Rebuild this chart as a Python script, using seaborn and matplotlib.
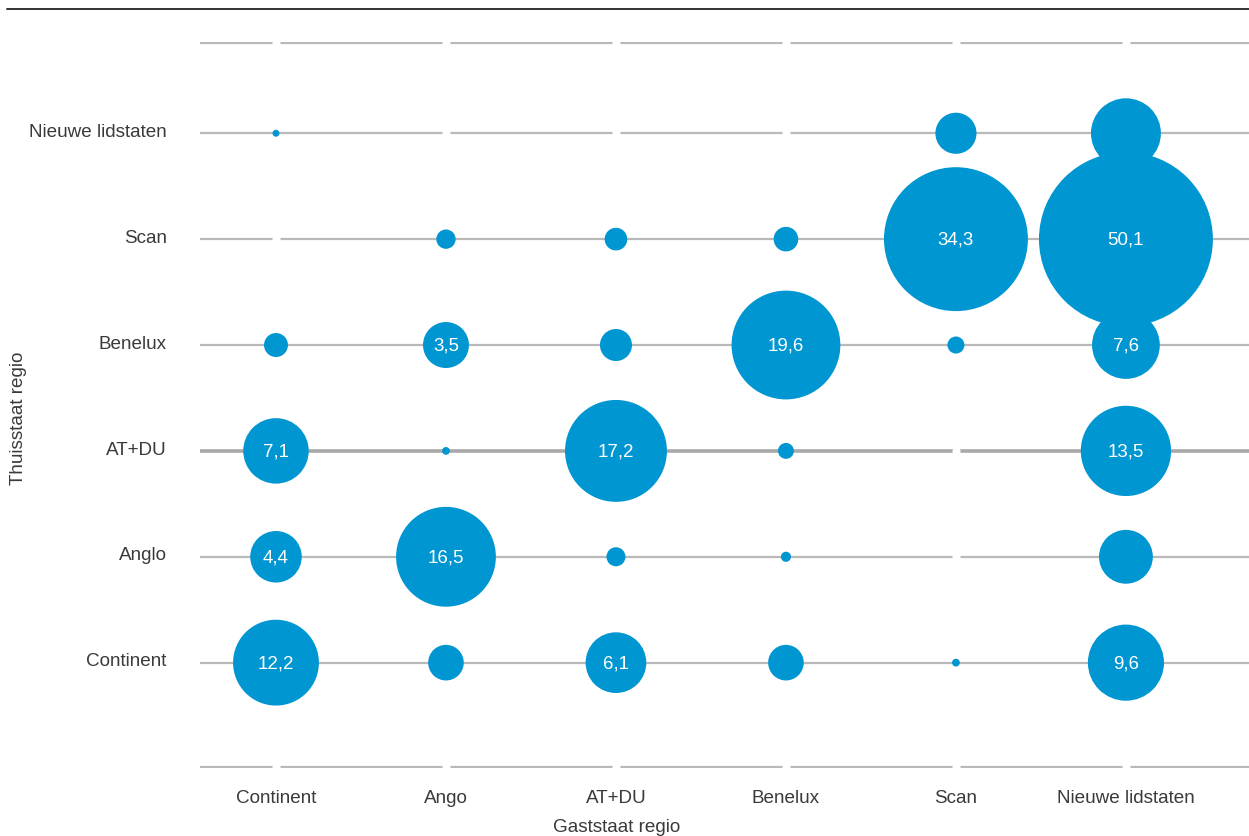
import matplotlib
matplotlib.use("Agg")
import matplotlib.pyplot as plt
from matplotlib.lines import Line2D
from matplotlib.transforms import ScaledTranslation
import numpy as np
import pandas as pd
import seaborn as sns

# ---- data ----
gast_regions = ["Continent", "Ango", "AT+DU", "Benelux", "Scan", "Nieuwe lidstaten"]   # x
thuis_regions = ["Continent", "Anglo", "AT+DU", "Benelux", "Scan", "Nieuwe lidstaten"]  # y (bottom->top)

# values per home region (row), in gast_regions order; None = no value
row_continent = [12.2, 2.1, 6.1, 2.1, 0.1, 9.6]
row_anglo = [4.4, 16.5, 0.6, 0.17, None, 4.8]
row_atdu = [7.1, 0.1, 17.2, 0.42, None, 13.5]
row_benelux = [0.95, 3.5, 1.7, 19.6, 0.48, 7.6]
row_scan = [None, 0.62, 0.85, 1.0, 34.3, 50.1]
row_nl = [0.08, None, None, None, 2.8, 8.1]
rows = [row_continent, row_anglo, row_atdu, row_benelux, row_scan, row_nl]

# which bubbles carry a value label
lab_continent = [True, False, True, False, False, True]
lab_anglo = [True, True, False, False, False, False]
lab_atdu = [True, False, True, False, False, True]
lab_benelux = [False, True, False, True, False, True]
lab_scan = [False, False, False, False, True, True]
lab_nl = [False, False, False, False, False, False]
labs = [lab_continent, lab_anglo, lab_atdu, lab_benelux, lab_scan, lab_nl]

xlabel = "Gaststaat regio"
ylabel = "Thuisstaat regio"

# ---- build table ----
recs, gaps = [], []
for yi, (vals, lb) in enumerate(zip(rows, labs)):
    for xi, (v, l) in enumerate(zip(vals, lb)):
        if v is None:
            gaps.append({"xi": xi, "yi": yi})
        else:
            recs.append({"xi": xi, "yi": yi, "value": v, "label": l,
                         "gast": gast_regions[xi], "thuis": thuis_regions[yi]})
df = pd.DataFrame(recs)

BLUE = "#0096D1"
GRID = "#b9b9b9"
TXT = "#3a3a3a"
FS = 13.6

sns.set_theme(style="white")
plt.rcParams["font.family"] = ["Liberation Sans", "DejaVu Sans"]

fig = plt.figure(figsize=(12.49, 8.37), dpi=100)
ax = fig.add_axes([200 / 1249, 68 / 837, 1049 / 1249, 726 / 837])

x_lo, x_hi = -0.447, 5.724
y_lo, y_hi = -0.995, 5.862
ax.set_xlim(x_lo, x_hi)
ax.set_ylim(y_lo, y_hi)

# grid lines (one per row plus the frame lines)
frame_rows = [y_lo + 0.012, y_hi - 0.006]
for yi in range(len(thuis_regions)):
    hl = thuis_regions[yi] == "AT+DU"
    ax.hlines(yi, x_lo, x_hi, colors="#a9a9a9" if hl else GRID,
              linewidth=2.6 if hl else 1.6, zorder=1)
for yf in frame_rows:
    ax.hlines(yf, x_lo, x_hi, colors=GRID, linewidth=1.6, zorder=1)

# gaps in lines where no value
gdf = pd.DataFrame(gaps)
for yf in frame_rows:
    gdf = pd.concat([gdf, pd.DataFrame({"xi": range(len(gast_regions)), "yi": [yf] * len(gast_regions)})])
ax.scatter(gdf["xi"], gdf["yi"], s=34, marker="o", color="white", linewidths=0, zorder=2)

# bubbles: area proportional to value
vmax = df["value"].max()
smax = 313.0 * vmax
sns.scatterplot(data=df, x="xi", y="yi", size="value", sizes=(0, smax),
                size_norm=(0, vmax), color=BLUE, linewidth=0, alpha=1,
                legend=False, ax=ax, zorder=3)

for _, r in df[df["label"]].iterrows():
    ax.text(r["xi"], r["yi"], f"{r['value']:.1f}".replace(".", ","),
            ha="center", va="center", color="white", fontsize=13.5, zorder=5)

ax.set_xticks(range(len(gast_regions)))
ax.set_xticklabels(gast_regions)
ax.set_yticks(range(len(thuis_regions)))
ax.set_yticklabels(thuis_regions)
ax.tick_params(axis="x", length=0, pad=15, labelsize=FS, labelcolor=TXT)
ax.tick_params(axis="y", length=0, pad=24, labelsize=FS, labelcolor=TXT)
shift = ScaledTranslation(0, -2.7 / 100, fig.dpi_scale_trans)
for lab in ax.get_yticklabels():
    lab.set_verticalalignment("baseline")
    lab.set_transform(lab.get_transform() + shift)
ax.set_xlabel(xlabel, fontsize=FS, color=TXT)
ax.set_ylabel(ylabel, fontsize=FS, color=TXT)
ax.xaxis.set_label_coords((617 - 200) / 1049, -50 / 726)
ax.yaxis.set_label_coords(-173 / 1049, 0.5 - 12 / 726)
for s in ax.spines.values():
    s.set_visible(False)
ax.set_facecolor("white")

fig.add_artist(Line2D([7 / 1249, 1.0], [1 - 10 / 837, 1 - 10 / 837],
                      color="#333333", linewidth=1.4))

fig.savefig("out.png", dpi=100, facecolor="white")
